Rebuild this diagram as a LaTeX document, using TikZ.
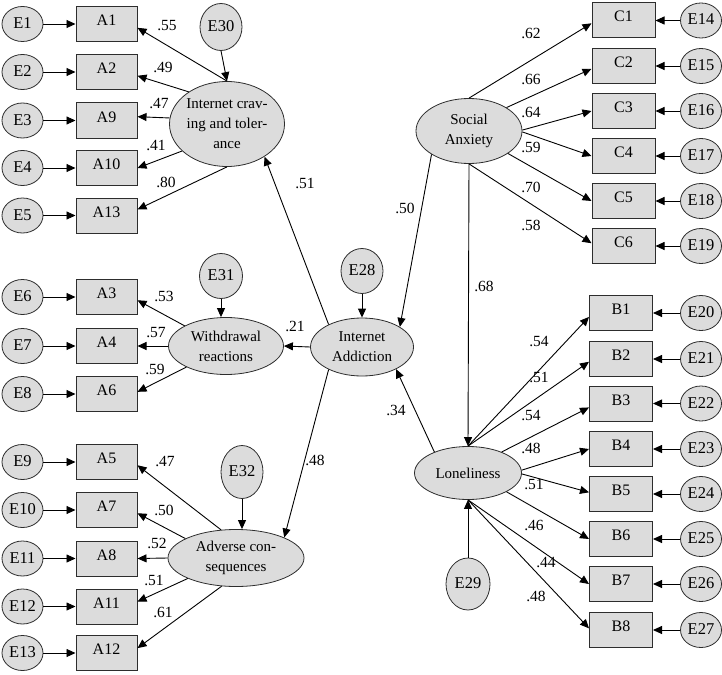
\documentclass[tikz,border=0pt]{standalone}
\usepackage{fontspec}
\setmainfont{Liberation Serif}
\usetikzlibrary{arrows.meta,shapes.geometric}
\definecolor{boxfill}{RGB}{220,220,220}
\definecolor{edgecol}{RGB}{45,45,45}
\begin{document}
\begin{tikzpicture}[x=1pt,y=-1pt,
  every node/.style={font=\fontsize{15}{20}\selectfont},
  obs/.style={draw=edgecol, line width=1pt, fill=boxfill, rectangle, minimum width=61pt, minimum height=35pt, inner sep=0pt, text height=11pt, text depth=8pt, font=\fontsize{16}{20}\selectfont},
  obsr/.style={obs, minimum width=63pt},
  err/.style={draw=edgecol, line width=0.8pt, fill=boxfill, ellipse, minimum width=41pt, minimum height=35pt, inner sep=0pt, text height=11pt, text depth=2pt, font=\fontsize{16.5}{20}\selectfont},
  lat/.style={draw=edgecol, line width=0.8pt, fill=boxfill, ellipse, inner sep=0pt, align=center},
  arr/.style={-{Triangle[length=9pt,width=8pt]}, line width=0.9pt},
  lbl/.style={inner sep=0pt, font=\fontsize{15.5}{15}\selectfont}
]
\useasboundingbox (0,0) rectangle (722,674);

% ---------- latent variables ----------
\node[lat, minimum width=115pt, minimum height=85pt] (ICT) at (227,124) {Internet crav-\\ing and toler-\\ance};
\node[lat, minimum width=115pt, minimum height=57pt] (W) at (226,346) {Withdrawal\\reactions};
\node[lat, minimum width=136pt, minimum height=57pt] (AC) at (236,558) {Adverse con-\\sequences};
\node[lat, minimum width=103pt, minimum height=58pt] (IA) at (362,347) {Internet\\Addiction};
\node[lat, minimum width=106pt, minimum height=65pt] (SA) at (469,131) {Social\\Anxiety};
\node[lat, minimum width=107pt, minimum height=53pt] (LO) at (468,473) {Loneliness};

% ---------- disturbances ----------
\node[err, minimum width=42pt, minimum height=47pt] (E30) at (221,27) {E30};
\node[err, minimum width=43pt, minimum height=45pt] (E31) at (221,276) {E31};
\node[err, minimum width=42pt, minimum height=53pt] (E32) at (242,472) {E32};
\node[err, minimum width=42pt, minimum height=45pt] (E28) at (362,271) {E28};
\node[err, minimum width=44pt, minimum height=52pt] (E29) at (468,584) {E29};

% ---------- left indicators ----------
\foreach \e/\a/\y in {E1/A1/24, E2/A2/72, E3/A9/120.5, E4/A10/168, E5/A13/215.5,
                      E6/A3/297, E7/A4/346, E8/A6/394,
                      E9/A5/462, E10/A7/510, E11/A8/558.5, E12/A11/606.5, E13/A12/653}{
  \node[obs] (\a) at (106.5,\y) {\a};
  \node[err] (\e) at (22.5,\y) {\e};
  \draw[arr] (\e.east) -- (\a.west);
}

% ---------- right indicators ----------
\foreach \e/\c/\y in {E14/C1/20.5, E15/C2/66, E16/C3/111, E17/C4/156, E18/C5/201, E19/C6/246}{
  \node[obsr] (\c) at (623.5,\y) {\c};
  \node[err] (\e) at (701,\y) {\e};
  \draw[arr] (\e.west) -- (\c.east);
}
\foreach \e/\b/\y in {E20/B1/313, E21/B2/359, E22/B3/403.5, E23/B4/449, E24/B5/494, E25/B6/539, E26/B7/584, E27/B8/630}{
  \node[obsr] (\b) at (621,\y) {\b};
  \node[err] (\e) at (701,\y) {\e};
  \draw[arr] (\e.west) -- (\b.east);
}

% ---------- disturbance arrows ----------
\draw[arr] (E30.south) -- (ICT.north);
\draw[arr] (E31.south) -- (E31.south |- W.north);
\draw[arr] (E32.south) -- (E32.south |- AC.north);
\draw[arr] (E28.south) -- (IA.north);
\draw[arr] (E29.north) -- (LO.south);

% ---------- structural paths ----------
\draw[arr] (IA.146) -- (ICT.-41);
\draw[arr] (IA.west) -- (W.east);
\draw[arr] (IA.214) -- (AC.23);
\draw[arr] (SA.212) -- (IA.28);
\draw[arr] (SA.south) -- (LO.north);
\draw[arr] (LO.148) -- (IA.327);

\node[lbl] at (305,183) {.51};
\node[lbl] at (295,326) {.21};
\node[lbl] at (315,460) {.48};
\node[lbl] at (405,208) {.50};
\node[lbl] at (484,286) {.68};
\node[lbl] at (396,410) {.34};

% ---------- loadings: Internet craving ----------
\draw[arr] (ICT.north) -- (A1.-7);
\draw[arr] (ICT.140) -- (A2.-7);
\draw[arr] (ICT.174) -- (A9.7);
\draw[arr] (ICT.211) -- (A10.east);
\draw[arr] (ICT.south) -- (A13.11);
\node[lbl] at (167,26) {.55};
\node[lbl] at (163,67) {.49};
\node[lbl] at (159,104) {.47};
\node[lbl] at (156,145) {.41};
\node[lbl] at (166,182) {.80};

% ---------- loadings: Withdrawal ----------
\draw[arr] (W.154) -- (A3.-6);
\draw[arr] (W.west) -- (A4.east);
\draw[arr] (W.208) -- (A6.4);
\node[lbl] at (164,296) {.53};
\node[lbl] at (156,333) {.57};
\node[lbl] at (155,369) {.59};

% ---------- loadings: Adverse consequences ----------
\draw[arr] (AC.118) -- (A5.-6);
\draw[arr] (AC.159) -- (A7.-6);
\draw[arr] (AC.west) -- (A8.east);
\draw[arr] (AC.203) -- (A11.9);
\draw[arr] (AC.243) -- (A12.9);
\node[lbl] at (165,462) {.47};
\node[lbl] at (164,510) {.50};
\node[lbl] at (157,543) {.52};
\node[lbl] at (154,580) {.51};
\node[lbl] at (163,612) {.61};

% ---------- loadings: Social Anxiety ----------
\draw[arr] (SA.north) -- (C1.-175);
\draw[arr] (SA.32) -- (C2.-175);
\draw[arr] (SA.1) -- (C3.west);
\draw[arr] (SA.-1) -- (C4.west);
\draw[arr] (SA.-30) -- (C5.west);
\draw[arr] (SA.south) -- (C6.175);
\node[lbl] at (531,33) {.62};
\node[lbl] at (531,79) {.66};
\node[lbl] at (531,112) {.64};
\node[lbl] at (531,147) {.59};
\node[lbl] at (531,187) {.70};
\node[lbl] at (531,225) {.58};

% ---------- loadings: Loneliness ----------
\draw[arr] (LO.north) -- (B1.-173);
\draw[arr] (LO.north) -- (B2.-175);
\draw[arr] (LO.32) -- (B3.-173);
\draw[arr] (LO.3) -- (B4.west);
\draw[arr] (LO.-1) -- (B5.177);
\draw[arr] (LO.-26) -- (B6.west);
\draw[arr] (LO.south) -- (B7.west);
\draw[arr] (LO.south) -- (B8.177);
\node[lbl] at (539,342) {.54};
\node[lbl] at (539,377) {.51};
\node[lbl] at (531,416) {.54};
\node[lbl] at (531,448) {.48};
\node[lbl] at (534,484) {.51};
\node[lbl] at (534,525) {.46};
\node[lbl] at (546,563) {.44};
\node[lbl] at (536,596) {.48};
\end{tikzpicture}
\end{document}
